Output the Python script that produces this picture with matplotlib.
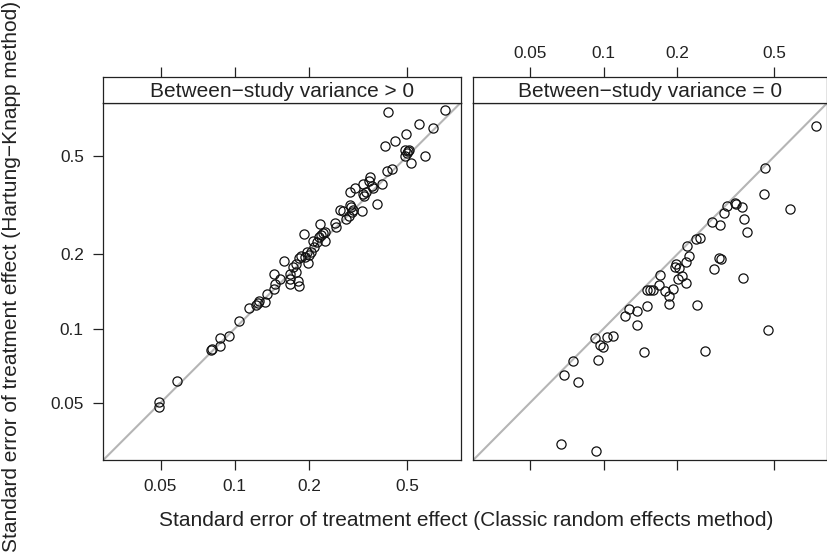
import matplotlib.pyplot as plt
from matplotlib.ticker import FixedLocator, FixedFormatter, NullLocator

plt.rcParams['font.family'] = ['Liberation Sans', 'DejaVu Sans']

# tick values shared by both axes of both panels
tick_vals = [0.05, 0.1, 0.2, 0.5]
tick_labels = ['0.05', '0.1', '0.2', '0.5']
ax_lims = (0.0293, 0.826)

panel_titles = ['Between\u2212study variance > 0', 'Between\u2212study variance = 0']

# panel 1: between-study variance > 0 (classic RE se, Hartung-Knapp se)
pos_x = [0.0495, 0.0495, 0.0584, 0.0798, 0.0806, 0.0873, 0.0873, 0.0947, 0.1039, 0.1141,
         0.1215, 0.1238, 0.1253, 0.1326, 0.1355, 0.1450, 0.1464, 0.1450, 0.1520, 0.1583,
         0.1669, 0.1679, 0.1684, 0.1722, 0.1765, 0.1776, 0.1804, 0.1815, 0.1821, 0.1861,
         0.1902, 0.1921, 0.1962, 0.1980, 0.2000, 0.2043, 0.2075, 0.2107, 0.2154, 0.2208,
         0.2243, 0.2229, 0.2278, 0.2314, 0.2335, 0.2564, 0.2580, 0.2679, 0.2763, 0.2833,
         0.2905, 0.2942, 0.2970, 0.2989, 0.3034, 0.3072, 0.2924, 0.3290, 0.3310, 0.3341,
         0.3415, 0.3310, 0.3534, 0.3501, 0.3612, 0.3634, 0.3784, 0.3953, 0.4154, 0.4366,
         0.4206, 0.4090, 0.4490, 0.4977, 0.4930, 0.5056, 0.5118, 0.4993, 0.4891, 0.5182,
         0.5924, 0.5585, 0.6384, 0.7142]
pos_y = [0.0503, 0.0480, 0.0611, 0.0816, 0.0823, 0.0918, 0.0849, 0.0934, 0.1069, 0.1215,
         0.1253, 0.1273, 0.1293, 0.1277, 0.1376, 0.1450, 0.1515, 0.1669, 0.1592, 0.1873,
         0.1583, 0.1520, 0.1669, 0.1776, 0.1832, 0.1695, 0.1568, 0.1487, 0.1937, 0.1980,
         0.2424, 0.1950, 0.2043, 0.1850, 0.1993, 0.2056, 0.2278, 0.2140, 0.2243, 0.2350,
         0.2402, 0.2662, 0.2439, 0.2278, 0.2462, 0.2687, 0.2580, 0.3043, 0.2995, 0.2789,
         0.2877, 0.3179, 0.3110, 0.2967, 0.3043, 0.3725, 0.3578, 0.2989, 0.3522, 0.3445,
         0.3578, 0.3868, 0.4116, 0.3990, 0.3784, 0.3715, 0.3209, 0.3868, 0.4366, 0.4449,
         0.7553, 0.5532, 0.5761, 0.6168, 0.5329, 0.5248, 0.5312, 0.5150, 0.5038, 0.4691,
         0.5006, 0.6773, 0.6517, 0.7720]

# panel 2: between-study variance = 0
zero_x = [0.7390, 0.4575, 0.4533, 0.5815, 0.3199, 0.3458, 0.3501, 0.3702, 0.3101, 0.3008,
          0.2781, 0.3765, 0.3880, 0.2394, 0.2485, 0.2194, 0.2229, 0.2167, 0.1987, 0.1955,
          0.2036, 0.2017, 0.2101, 0.2180, 0.1926, 0.1782, 0.1849, 0.1855, 0.1700, 0.1690,
          0.1598, 0.1549, 0.1501, 0.1501, 0.2959, 0.3034, 0.2842, 0.3726, 0.2408, 0.4720,
          0.2596, 0.1464, 0.1273, 0.1226, 0.1376, 0.1368, 0.0923, 0.1033, 0.1089, 0.0965,
          0.0995, 0.0947, 0.0752, 0.0689, 0.0786, 0.0672, 0.0935]
zero_y = [0.6669, 0.4490, 0.3522, 0.3063, 0.3140, 0.3229, 0.3209, 0.3130, 0.2941, 0.2645,
          0.2720, 0.2789, 0.2477, 0.2314, 0.2328, 0.2160, 0.1968, 0.1861, 0.1832, 0.1776,
          0.1765, 0.1592, 0.1633, 0.1534, 0.1450, 0.1419, 0.1355, 0.1261, 0.1653, 0.1510,
          0.1437, 0.1437, 0.1437, 0.1230, 0.1928, 0.1917, 0.1738, 0.1610, 0.1253, 0.0989,
          0.0813, 0.0803, 0.1196, 0.1123, 0.1182, 0.1036, 0.0918, 0.0923, 0.0932, 0.0862,
          0.0842, 0.0747, 0.0736, 0.0649, 0.0606, 0.0341, 0.0320]

W, H = 828, 558
FS = 12.4      # tick labels
FS_LAB = 15    # strip and axis titles


def rect(l, t, r, b):
    return [l / W, 1 - b / H, (r - l) / W, (b - t) / H]


def setup_log(ax):
    ax.set_xscale('log')
    ax.set_xlim(ax_lims)
    ax.xaxis.set_major_locator(FixedLocator(tick_vals))
    ax.xaxis.set_major_formatter(FixedFormatter(tick_labels))
    ax.xaxis.set_minor_locator(NullLocator())
    for s in ax.spines.values():
        s.set_linewidth(0.9)
        s.set_color('#222222')
    ax.tick_params(axis='both', which='major', length=7, width=0.9, color='#222222',
                   labelsize=FS, labelcolor='#222222', direction='out')


fig = plt.figure(figsize=(W / 100, H / 100), dpi=100)

panels = [
    (pos_x, pos_y, (103.3, 460.7), True),
    (zero_x, zero_y, (473.3, 827.5), False),
]

for i, (xs, ys, (l, r), first) in enumerate(panels):
    ax = fig.add_axes(rect(l, 102.7, r, 460))
    setup_log(ax)
    ax.set_yscale('log')
    ax.set_ylim(ax_lims)
    ax.yaxis.set_major_locator(FixedLocator(tick_vals))
    ax.yaxis.set_major_formatter(FixedFormatter(tick_labels))
    ax.yaxis.set_minor_locator(NullLocator())
    ax.plot(ax_lims, ax_lims, color='#b5b5b5', lw=1.5, zorder=1)
    ax.plot(xs, ys, 'o', mfc='none', mec='#111111', ms=6.6, mew=0.9, zorder=2)
    ax.tick_params(top=False, right=False, bottom=True, left=first,
                   labelbottom=first, labelleft=first, pad=7)

    # strip on top, carrying the top axis ticks
    st = fig.add_axes(rect(l, 77.3, r, 102.7))
    setup_log(st)
    st.set_ylim(0, 1)
    st.set_yticks([])
    st.tick_params(top=True, bottom=False, labeltop=not first, labelbottom=False, pad=5)
    st.text(0.5, 0.45, panel_titles[i], transform=st.transAxes, ha='center', va='center',
            fontsize=FS_LAB, color='#222222')

fig.text(466 / W, 1 - 521 / H,
         'Standard error of treatment effect (Classic random effects method)',
         ha='center', va='center', fontsize=FS_LAB, color='#222222')
fig.text(12 / W, 1 - 276 / H,
         'Standard error of treatment effect (Hartung\u2212Knapp method)',
         ha='center', va='center', rotation=90, fontsize=FS_LAB, color='#222222')

fig.savefig('out.png', dpi=100)
